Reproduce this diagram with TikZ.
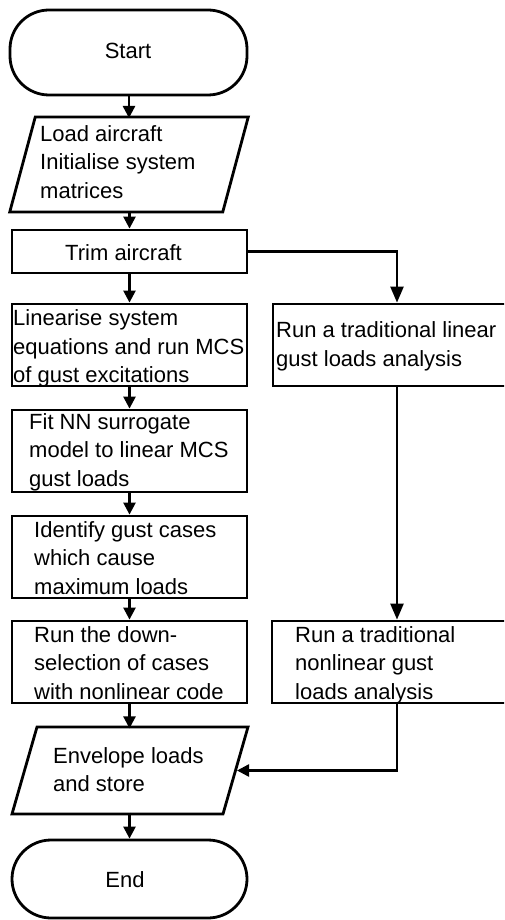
\documentclass[tikz,border=0pt]{standalone}
\usepackage{fontspec}
\setmainfont{Liberation Sans}
\usetikzlibrary{arrows.meta}
\begin{document}
\begin{tikzpicture}[x=1pt,y=-1pt,
  lw/.style={line width=2.8pt},
  box/.style={draw, lw, minimum width=235pt, minimum height=82pt, inner sep=0pt},
  term/.style={box, rounded corners=39pt},
  iocore/.style={draw=none, inner sep=0pt, outer sep=0pt},
  txt/.style={inner sep=0pt, align=left, font=\fontsize{22}{28.5}\selectfont},
  arr/.style={line width=2.4pt, -{Triangle[length=12pt,width=12pt]}},
  bigarr/.style={line width=2.4pt, -{Triangle[length=16pt,width=13pt]}}
]
\useasboundingbox (0,0) rectangle (504,920);
\clip (0,0) rectangle (504,920);
\fill[white] (0,0) rectangle (504,920);

% shapes
\node[term, minimum width=237pt, minimum height=85pt] (start) at (128.5,52.5) {};
\node[iocore, minimum width=213pt, minimum height=95pt] (load) at (129,164.5) {};
\draw[lw, line join=miter] ([xshift=12.75pt]load.north west) -- ([xshift=12.75pt]load.north east)
   -- ([xshift=-12.75pt]load.south east) -- ([xshift=-12.75pt]load.south west) -- cycle;
\node[box, minimum height=43pt] (trim) at (129.5,251.5) {};
\node[box] (lin) at (129.5,345) {};
\node[box] (fit) at (129.5,451) {};
\node[box] (ident) at (129.5,557) {};
\node[box] (down) at (129.5,662) {};
\node[iocore, minimum width=211pt, minimum height=87pt] (env) at (130,770.5) {};
\draw[lw, line join=miter] ([xshift=12.5pt]env.north west) -- ([xshift=12.5pt]env.north east)
   -- ([xshift=-12.5pt]env.south east) -- ([xshift=-12.5pt]env.south west) -- cycle;
\coordinate (envin) at ([xshift=1.5pt]env.east);
\node[term, minimum height=78pt] (end) at (129.5,879) {};
\node[box, minimum width=248pt] (rb1) at (397,345) {};
\node[box, minimum width=250pt] (rb2) at (397,662) {};

% texts
\node[txt] (tstart) at (128,50.5) {Start};
\node[txt, anchor=north west] (tload) at (40,125) {Load aircraft\\Initialise system\\matrices};
\node[txt] (ttrim) at (123.5,252.5) {Trim aircraft};
\node[txt, anchor=north west] (tlin) at (13,309.5) {Linearise system\\equations and run MCS\\of gust excitations};
\node[txt, anchor=north west] (trb1) at (276,321.5) {Run a traditional linear\\gust loads analysis};
\node[txt, anchor=north west] (tfit) at (29,413) {Fit NN surrogate\\model to linear MCS\\gust loads};
\node[txt, anchor=north west] (tident) at (34,521) {Identify gust cases\\which cause\\maximum loads};
\node[txt, anchor=north west] (tdown) at (34,626) {Run the down-\\selection of cases\\with nonlinear code};
\node[txt, anchor=north west] (trb2) at (295,626) {Run a traditional\\nonlinear gust\\loads analysis};
\node[txt, anchor=north west] (tenv) at (53,747) {Envelope loads\\and store};
\node[txt] (tend) at (125,879.5) {End};

% connectors
\draw[arr] (load.north |- start.south) -- ([yshift=-1pt]load.north);
\draw[arr] ([yshift=1pt]trim.north |- load.south) -- (trim.north);
\draw[arr] (trim.south) -- (lin.north);
\draw[bigarr] (trim.east) -| (rb1.north);
\draw[arr] (lin.south) -- (fit.north);
\draw[arr] (fit.south) -- (ident.north);
\draw[arr] (ident.south) -- (down.north);
\draw[bigarr] (rb1.south) -- (rb2.north);
\draw[arr] (down.south) -- ([yshift=-1.4pt]down.south |- env.north);
\draw[arr] (rb2.south) |- (envin);
\draw[arr] ([yshift=1.4pt]down.south |- env.south) -- (end.north);
\end{tikzpicture}
\end{document}
